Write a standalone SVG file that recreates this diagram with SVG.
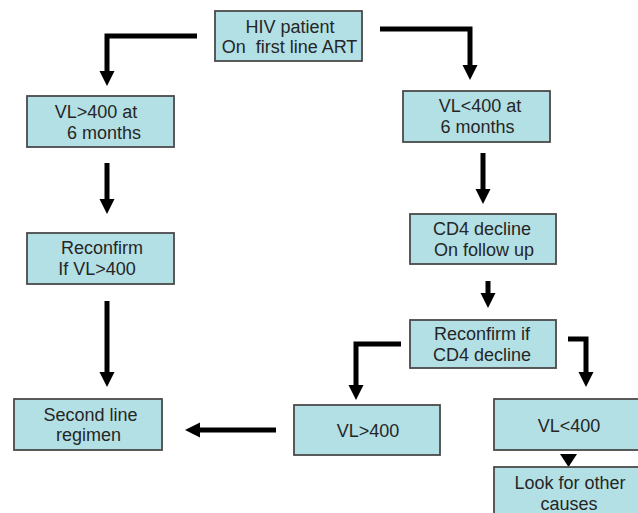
<svg xmlns="http://www.w3.org/2000/svg" width="638" height="513" viewBox="0 0 638 513">
<style>
.box{fill:#b3e0e5;stroke:#4a4a4a;stroke-width:1.8}
.t{font-family:"Liberation Sans",Arial,sans-serif;font-size:18px;fill:#262626;text-anchor:middle;white-space:pre}
.c{fill:none;stroke:#000;stroke-width:5;stroke-linejoin:miter}
</style>
<defs>
<marker id="ah" viewBox="0 0 10 10" refX="0" refY="5" markerUnits="userSpaceOnUse" markerWidth="15" markerHeight="17" orient="auto">
<path d="M0,0 L10,5 L0,10 z" fill="#000"/>
</marker>
</defs>
<rect width="638" height="513" fill="#fff"/>
<g id="connectors">
<path class="c" d="M197,36 H107 V71" marker-end="url(#ah)"/>
<path class="c" d="M380,29 H470 V65" marker-end="url(#ah)"/>
<path class="c" d="M107,163 V199" marker-end="url(#ah)"/>
<path class="c" d="M483,153 V189" marker-end="url(#ah)"/>
<path class="c" d="M488,281 V293" marker-end="url(#ah)"/>
<path class="c" d="M107,301 V372" marker-end="url(#ah)"/>
<path class="c" d="M401,344 H356 V385" marker-end="url(#ah)"/>
<path class="c" d="M568,339 H586 V372" marker-end="url(#ah)"/>
<path class="c" d="M276,430 H200" marker-end="url(#ah)"/>
<path d="M560,454 H577 L568.5,467 z" fill="#000"/>
</g>
<g id="n-hiv">
<rect class="box" x="215" y="11" width="147" height="50"/>
<text class="t" x="290" y="33">HIV patient</text>
<text class="t" x="289.5" y="53">On  first line ART</text>
</g>
<g id="n-vlgt400-6m">
<rect class="box" x="27" y="96" width="147" height="51"/>
<text class="t" x="96" y="118">VL&gt;400 at</text>
<text class="t" x="104" y="139">6 months</text>
</g>
<g id="n-vllt400-6m">
<rect class="box" x="403" y="91" width="147" height="51"/>
<text class="t" x="480" y="112">VL&lt;400 at</text>
<text class="t" x="477.5" y="133">6 months</text>
</g>
<g id="n-reconfirm-vl">
<rect class="box" x="27" y="233" width="147" height="51"/>
<text class="t" x="102" y="254">Reconfirm</text>
<text class="t" x="97" y="275">If VL&gt;400</text>
</g>
<g id="n-cd4">
<rect class="box" x="410" y="214" width="146" height="50"/>
<text class="t" x="482" y="235">CD4 decline</text>
<text class="t" x="484" y="256">On follow up</text>
</g>
<g id="n-reconfirm-cd4">
<rect class="box" x="410" y="320" width="146" height="48"/>
<text class="t" x="482" y="340">Reconfirm if</text>
<text class="t" x="482" y="361">CD4 decline</text>
</g>
<g id="n-second">
<rect class="box" x="14" y="399" width="148" height="51"/>
<text class="t" x="90.5" y="421">Second line</text>
<text class="t" x="88.5" y="441">regimen</text>
</g>
<g id="n-vlgt400">
<rect class="box" x="294" y="405" width="146" height="50"/>
<text class="t" x="368" y="437">VL&gt;400</text>
</g>
<g id="n-vllt400">
<rect class="box" x="494" y="399" width="150" height="51"/>
<text class="t" x="569" y="432">VL&lt;400</text>
</g>
<g id="n-other">
<rect class="box" x="494" y="467" width="150" height="56"/>
<text class="t" x="570" y="489">Look for other</text>
<text class="t" x="569" y="510">causes</text>
</g>
</svg>
